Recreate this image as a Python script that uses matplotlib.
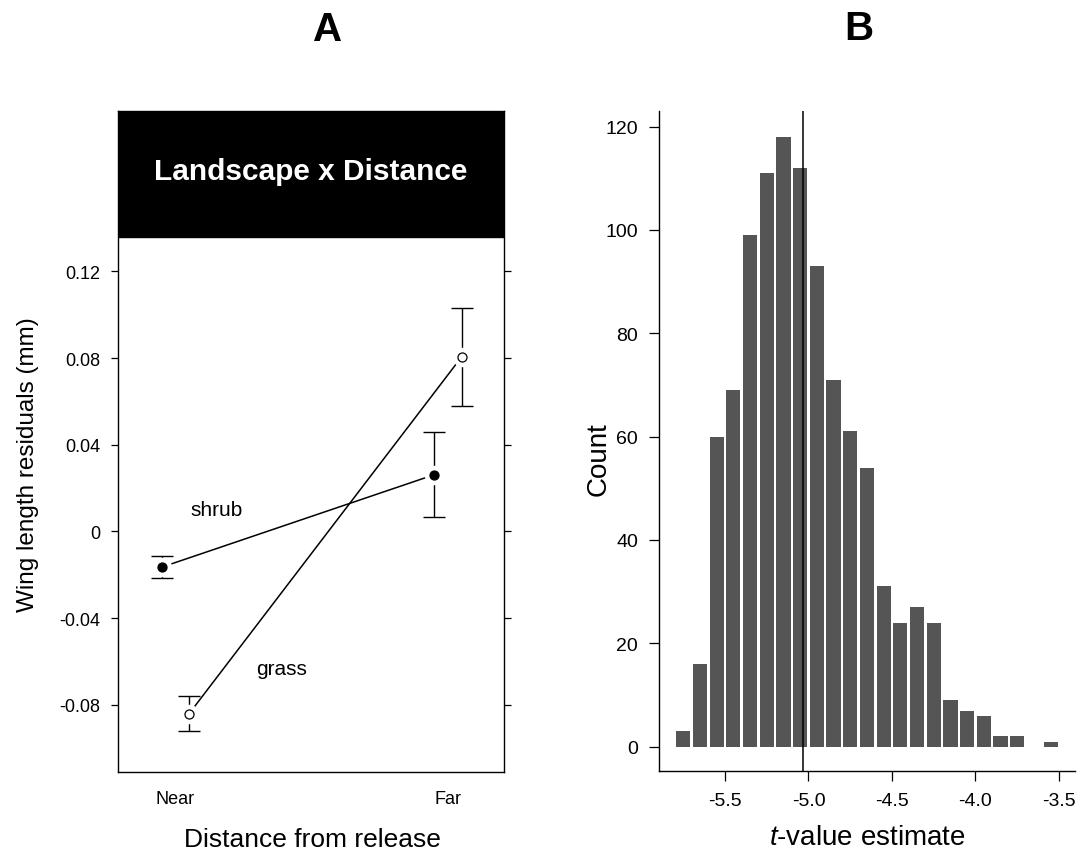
import matplotlib
matplotlib.use('Agg')
import matplotlib.pyplot as plt
import numpy as np

plt.rcParams['font.family'] = ['Liberation Sans', 'DejaVu Sans']
plt.rcParams['mathtext.fontset'] = 'custom'
plt.rcParams['mathtext.it'] = 'Liberation Sans:italic'
plt.rcParams['mathtext.rm'] = 'Liberation Sans'

# ---------------- data ----------------
distance = ['Near', 'Far']
shrub_mean = [-0.0165, 0.0262]
shrub_se = [0.0050, 0.0195]
grass_mean = [-0.0842, 0.0806]
grass_se = [0.0081, 0.0226]
a_yticks = [-0.08, -0.04, 0, 0.04, 0.08, 0.12]
a_yticklabels = ['-0.08', '-0.04', '0', '0.04', '0.08', '0.12']

bin_centers = [-5.75, -5.65, -5.55, -5.45, -5.35, -5.25, -5.15, -5.05, -4.95,
               -4.85, -4.75, -4.65, -4.55, -4.45, -4.35, -4.25, -4.15, -4.05,
               -3.95, -3.85, -3.75, -3.65, -3.55]
counts = [3, 16, 60, 69, 99, 111, 118, 112, 93, 71, 61, 54, 31, 24, 27, 24,
          9, 7, 6, 2, 2, 0, 1]
observed_t = -5.035
b_xticks = [-5.5, -5.0, -4.5, -4.0, -3.5]
b_yticks = [0, 20, 40, 60, 80, 100, 120]

# ---------------- figure ----------------
W, H = 1080, 853
fig = plt.figure(figsize=(W / 100, H / 100), dpi=100)

def fx(px):
    return px / W

def fy(py):
    return 1 - py / H

# ---------- Panel A ----------
axA = fig.add_axes([fx(118), fy(773), fx(504) - fx(118), fy(112) - fy(773)])
ytop = 0.194
axA.set_xlim(-0.21, 1.205)
axA.set_ylim(-0.111, ytop)
axA.axhspan(0.136, ytop, color='black', zorder=1)
axA.text(0.5, 0.909, 'Landscape x Distance', transform=axA.transAxes,
         ha='center', va='center', color='white', fontsize=21.5,
         fontweight='bold', zorder=5)

xpos = np.arange(len(distance))
off = 0.05
groups = [
    (xpos - off, shrub_mean, shrub_se, 'black'),
    (xpos + off, grass_mean, grass_se, 'white'),
]
for xs, m, se, fc in groups:
    axA.errorbar(xs, m, yerr=se, fmt='none', ecolor='black', elinewidth=1,
                 capsize=8, capthick=1, zorder=2)
    axA.plot(xs, m, '-', color='black', lw=1.1, zorder=2)
    axA.plot(xs, m, 'o', ms=14, mfc='white', mec='none', zorder=3)
    axA.plot(xs, m, 'o', ms=6.5, mfc=fc, mec='black', mew=0.9, zorder=4)

axA.text(0.15, 0.0101, 'shrub', ha='center', va='center', fontsize=15)
axA.text(0.39, -0.0632, 'grass', ha='center', va='center', fontsize=15)

axA.set_xticks(xpos)
axA.set_xticklabels(distance, fontsize=13)
axA.set_yticks(a_yticks)
axA.set_yticklabels(a_yticklabels, fontsize=13)
axA.tick_params(axis='x', length=0, pad=13)
axA.tick_params(axis='y', direction='out', length=5, width=0.9, pad=8,
                left=True, right=True, labelright=False)
for s in axA.spines.values():
    s.set_linewidth(1.0)

fig.text(fx(28), fy(465), 'Wing length residuals (mm)', rotation=90,
         ha='center', va='center', fontsize=17.5)
fig.text(fx(312), fy(840), 'Distance from release', ha='center',
         va='center', fontsize=19)
fig.text(fx(328), fy(30), 'A', ha='center', va='center', fontsize=29,
         fontweight='bold')

# ---------- Panel B ----------
axB = fig.add_axes([fx(659), fy(772), fx(1075) - fx(659), fy(112) - fy(772)])
axB.bar(bin_centers, counts, width=0.085, color='#555555', edgecolor='none',
        zorder=2)
axB.axvline(observed_t, color='black', lw=1.1, zorder=3)
axB.set_xlim(-5.895, -3.404)
axB.set_ylim(-4.7, 123)
axB.set_xticks(b_xticks)
axB.set_xticklabels(['%.1f' % v for v in b_xticks], fontsize=14)
axB.set_yticks(b_yticks)
axB.set_yticklabels([str(v) for v in b_yticks], fontsize=14)
axB.tick_params(axis='both', direction='out', length=7, width=0.9, pad=8)
axB.spines['top'].set_visible(False)
axB.spines['right'].set_visible(False)
for s in ['left', 'bottom']:
    axB.spines[s].set_linewidth(1.0)

fig.text(fx(599), fy(459), 'Count', rotation=90, ha='center', va='center',
         fontsize=20)
fig.text(fx(867), fy(838), '$t$-value estimate', ha='center', va='center',
         fontsize=20)
fig.text(fx(859), fy(29), 'B', ha='center', va='center', fontsize=29,
         fontweight='bold')

fig.savefig('out.png', dpi=100)
